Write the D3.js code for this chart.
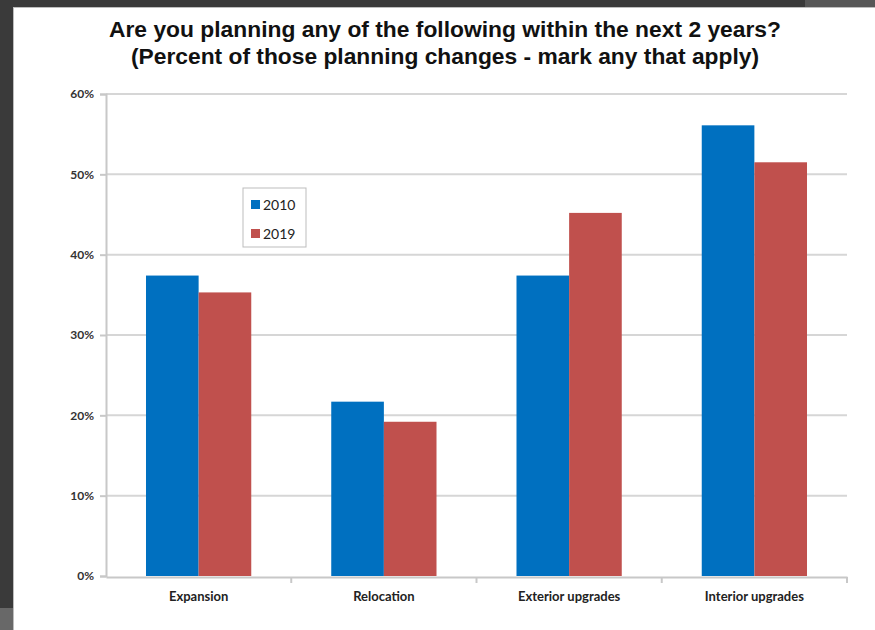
<!DOCTYPE html>
<html lang="en">
<head>
<meta charset="UTF-8">
<title>Planning changes</title>
<script src="https://d3js.org/d3.v7.min.js"></script>
<style>
    body { margin: 0; background: #3a3a3a; }
    svg { display: block; }
</style>
</head>
<body>
<script>

const categories = ['Expansion', 'Relocation', 'Exterior upgrades', 'Interior upgrades'];
const seriesNames = ['2010', '2019'];
const values2010 = [37.4, 21.7, 37.4, 56.1];
const values2019 = [35.3, 19.2, 45.2, 51.5];
const yTicks = [0, 10, 20, 30, 40, 50, 60];
const titleLines = [
    'Are you planning any of the following within the next 2 years?',
    '(Percent of those planning changes - mark any that apply)'
];
const colors = ['#0070c0', '#c0504d'];

const W = 875, H = 630;
const svg = d3.select('body').append('svg').attr('width', W).attr('height', H);

// dark frame around a white slide
svg.append('rect').attr('width', W).attr('height', H).attr('fill', '#3a3a3a');
svg.append('rect').attr('x', 805).attr('y', 0).attr('width', 70).attr('height', 7).attr('fill', '#575757');
svg.append('rect').attr('x', 0).attr('y', 608).attr('width', 13).attr('height', 22).attr('fill', '#686868');
svg.append('rect').attr('x', 13).attr('y', 7).attr('width', W - 13).attr('height', H - 7).attr('fill', '#ffffff');
svg.append('line').attr('x1', 13.5).attr('x2', 13.5).attr('y1', 7).attr('y2', H).attr('stroke', '#bdbdbd');
svg.append('line').attr('x1', 13).attr('x2', W).attr('y1', 7.5).attr('y2', 7.5).attr('stroke', '#bdbdbd');

// title
svg.selectAll('text.title')
    .data(titleLines)
    .enter()
    .append('text')
    .attr('class', 'title')
    .attr('x', 445)
    .attr('y', (d, i) => 37 + i * 27)
    .attr('text-anchor', 'middle')
    .attr('textLength', (d, i) => i === 0 ? 672 : 628)
    .attr('lengthAdjust', 'spacingAndGlyphs')
    .style('font-family', '"Liberation Sans", Arial, sans-serif')
    .style('font-weight', 'bold')
    .style('font-size', '22px')
    .style('fill', '#111')
    .text(d => d);

const plotLeft = 106, plotRight = 847, plotTop = 94, plotBottom = 576;
const x = d3.scaleBand().domain(categories).range([plotLeft, plotRight]).paddingInner(0).paddingOuter(0);
const xs = d3.scaleBand().domain(seriesNames).range([0, x.bandwidth()]).paddingInner(0).paddingOuter(0.76);
const y = d3.scaleLinear().domain([0, 60]).range([plotBottom, plotTop]);

// gridlines
svg.append('g')
    .selectAll('line')
    .data(yTicks.slice(1))
    .enter()
    .append('line')
    .attr('x1', plotLeft)
    .attr('x2', plotRight)
    .attr('y1', d => y(d))
    .attr('y2', d => y(d))
    .style('stroke', '#d6d6d6')
    .style('stroke-width', '2px');

// bars
const rows = categories.map((c, i) => ({ cat: c, vals: [values2010[i], values2019[i]] }));
const groups = svg.append('g')
    .selectAll('g')
    .data(rows)
    .enter()
    .append('g')
    .attr('transform', d => `translate(${x(d.cat)},0)`);
groups.selectAll('rect')
    .data(d => d.vals.map((v, j) => ({ key: seriesNames[j], v: v, j: j })))
    .enter()
    .append('rect')
    .attr('x', d => xs(d.key))
    .attr('width', xs.bandwidth())
    .attr('y', d => y(d.v))
    .attr('height', d => y(0) - y(d.v))
    .style('fill', d => colors[d.j]);

// y axis
const yAxis = d3.axisLeft(y)
    .tickValues(yTicks)
    .tickFormat(d => d + '%')
    .tickSize(6)
    .tickPadding(6);
const gy = svg.append('g').attr('transform', `translate(${plotLeft},0)`).call(yAxis);
gy.select('.domain').attr('stroke', '#c8c8c8').attr('stroke-width', 2);
gy.selectAll('.tick line').attr('stroke', '#c8c8c8').attr('stroke-width', 2);
gy.selectAll('.tick text')
    .style('font-family', 'Lato, "Open Sans", sans-serif')
    .style('font-weight', 'bold')
    .style('font-size', '12px')
    .style('fill', '#333');

// x axis
const xAxis = d3.axisBottom(x).tickSize(0).tickPadding(15);
const gx = svg.append('g').attr('transform', `translate(0,${plotBottom + 1})`).call(xAxis);
gx.select('.domain').attr('stroke', '#c8c8c8').attr('stroke-width', 2);
gx.selectAll('.tick text')
    .style('font-family', 'Lato, "Open Sans", sans-serif')
    .style('font-weight', 'bold')
    .style('font-size', '13px')
    .style('fill', '#222');
gx.append('g')
    .selectAll('line')
    .data(categories.slice(1).concat(['__end']))
    .enter()
    .append('line')
    .attr('x1', d => d === '__end' ? plotRight : x(d))
    .attr('x2', d => d === '__end' ? plotRight : x(d))
    .attr('y1', 0)
    .attr('y2', 6)
    .attr('stroke', '#c8c8c8')
    .attr('stroke-width', 2);

// legend
const legend = svg.append('g').attr('transform', 'translate(243,188)');
legend.append('rect')
    .attr('width', 63)
    .attr('height', 59)
    .attr('fill', '#fff')
    .attr('stroke', '#bdbdbd');
const items = legend.selectAll('g.item')
    .data(seriesNames)
    .enter()
    .append('g')
    .attr('class', 'item')
    .attr('transform', (d, i) => `translate(8,${17 + i * 29})`);
items.append('rect')
    .attr('y', -5)
    .attr('width', 9)
    .attr('height', 9)
    .style('fill', (d, i) => colors[i]);
items.append('text')
    .attr('x', 12)
    .attr('y', 5)
    .style('font-family', 'Lato, "Open Sans", sans-serif')
    .style('font-size', '14px')
    .style('fill', '#222')
    .text(d => d);

</script>
</body>
</html>
